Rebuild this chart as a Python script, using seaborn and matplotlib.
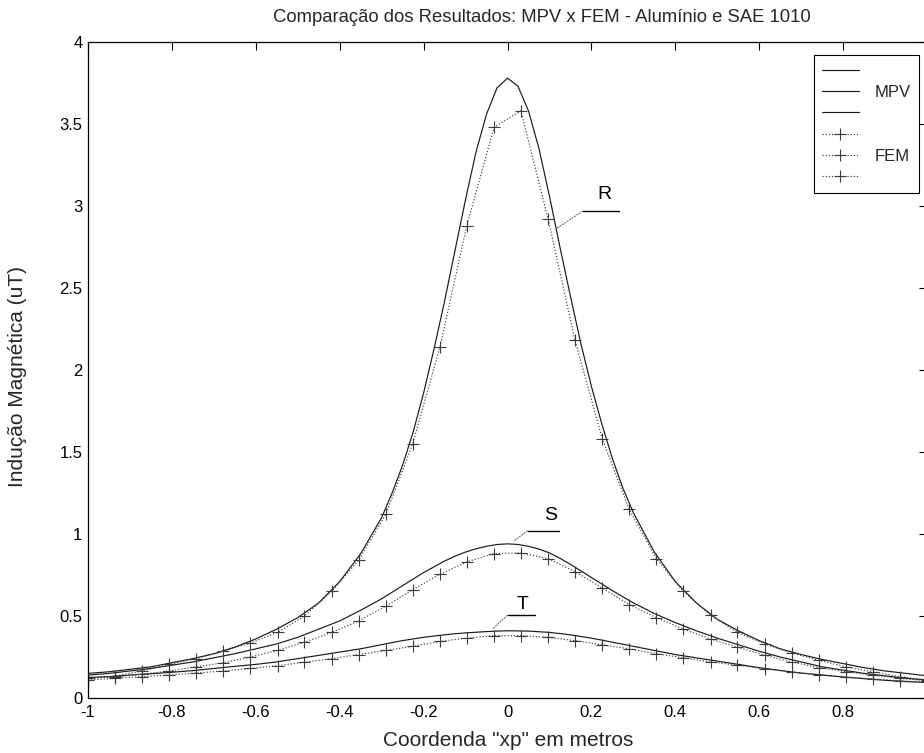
import matplotlib
matplotlib.use("Agg")
import matplotlib.pyplot as plt
import seaborn as sns

# ---------------- data ----------------
x_mpv = [-1.00, -0.95, -0.90, -0.85, -0.80, -0.75, -0.70, -0.65, -0.60, -0.55,
         -0.50, -0.45, -0.40, -0.35, -0.30, -0.275, -0.25, -0.225, -0.20, -0.175,
         -0.15, -0.125, -0.10, -0.075, -0.05, -0.025, 0.00, 0.025, 0.05, 0.075,
         0.10, 0.125, 0.15, 0.175, 0.20, 0.225, 0.25, 0.275, 0.30, 0.35,
         0.40, 0.45, 0.50, 0.55, 0.60, 0.65, 0.70, 0.75, 0.80, 0.85,
         0.90, 0.95, 1.00]

r_mpv = [0.15, 0.16, 0.175, 0.19, 0.215, 0.24, 0.27, 0.31, 0.36, 0.42,
         0.49, 0.58, 0.71, 0.88, 1.10, 1.25, 1.42, 1.62, 1.86, 2.13,
         2.42, 2.73, 3.04, 3.33, 3.56, 3.72, 3.78, 3.73, 3.58, 3.35,
         3.06, 2.75, 2.45, 2.16, 1.90, 1.67, 1.46, 1.28, 1.13, 0.89,
         0.71, 0.58, 0.48, 0.41, 0.35, 0.30, 0.265, 0.235, 0.21, 0.185,
         0.165, 0.15, 0.135]

s_mpv = [0.14, 0.15, 0.165, 0.18, 0.20, 0.22, 0.245, 0.27, 0.30, 0.33,
         0.37, 0.42, 0.47, 0.535, 0.605, 0.645, 0.685, 0.725, 0.765, 0.80,
         0.835, 0.865, 0.89, 0.91, 0.925, 0.936, 0.94, 0.936, 0.925, 0.908,
         0.885, 0.852, 0.815, 0.775, 0.735, 0.695, 0.655, 0.617, 0.58, 0.515,
         0.46, 0.41, 0.365, 0.325, 0.285, 0.25, 0.22, 0.19, 0.17, 0.15,
         0.135, 0.12, 0.11]

t_mpv = [0.125, 0.13, 0.14, 0.148, 0.157, 0.167, 0.18, 0.193, 0.205, 0.22,
         0.24, 0.26, 0.28, 0.30, 0.325, 0.338, 0.35, 0.36, 0.37, 0.378,
         0.385, 0.392, 0.397, 0.401, 0.405, 0.408, 0.41, 0.409, 0.408, 0.404,
         0.40, 0.393, 0.385, 0.375, 0.365, 0.353, 0.34, 0.328, 0.315, 0.29,
         0.265, 0.245, 0.225, 0.205, 0.185, 0.168, 0.152, 0.14, 0.128, 0.118,
         0.108, 0.10, 0.095]

x_fem = [-1.000, -0.935, -0.871, -0.806, -0.742, -0.677, -0.613, -0.548,
         -0.484, -0.419, -0.355, -0.290, -0.226, -0.161, -0.097, -0.032,
         0.032, 0.097, 0.161, 0.226, 0.290, 0.355, 0.419, 0.484,
         0.548, 0.613, 0.677, 0.742, 0.806, 0.871, 0.935, 1.000]

r_fem = [0.12, 0.134, 0.165, 0.205, 0.24, 0.286, 0.335, 0.40,
         0.50, 0.65, 0.84, 1.12, 1.55, 2.14, 2.88, 3.48,
         3.58, 2.92, 2.18, 1.58, 1.15, 0.85, 0.65, 0.506,
         0.40, 0.33, 0.275, 0.23, 0.19, 0.16, 0.13, 0.11]

s_fem = [0.12, 0.13, 0.145, 0.165, 0.19, 0.215, 0.25, 0.29,
         0.34, 0.40, 0.47, 0.56, 0.66, 0.755, 0.83, 0.88,
         0.885, 0.85, 0.77, 0.67, 0.57, 0.49, 0.42, 0.36,
         0.31, 0.26, 0.22, 0.185, 0.16, 0.14, 0.12, 0.105]

t_fem = [0.11, 0.12, 0.13, 0.14, 0.152, 0.165, 0.18, 0.197,
         0.218, 0.24, 0.265, 0.29, 0.315, 0.345, 0.365, 0.38,
         0.38, 0.37, 0.35, 0.325, 0.30, 0.27, 0.245, 0.22,
         0.20, 0.178, 0.158, 0.142, 0.128, 0.115, 0.105, 0.095]

x_ticks = [-1, -0.8, -0.6, -0.4, -0.2, 0, 0.2, 0.4, 0.6, 0.8, 1]
y_ticks = [0, 0.5, 1, 1.5, 2, 2.5, 3, 3.5, 4]
legend_labels = ["", "MPV", "", "", "FEM", ""]

title = "Comparação dos Resultados: MPV x FEM - Alumínio e SAE 1010"
xlabel = 'Coordenda "xp" em metros'
ylabel = "Indução Magnética (uT)"

# curve labels: (text, text pos, underline x-range & y, leader end)
curve_labels = [
    ("R", (0.232, 3.07), (0.180, 0.266, 2.97), (0.115, 2.86)),
    ("S", (0.103, 1.11), (0.048, 0.122, 1.02), (0.014, 0.955)),
    ("T", (0.036, 0.57), (0.000, 0.065, 0.505), (-0.036, 0.42)),
]

# ---------------- styling ----------------
sns.set_theme(style="white")
plt.rcParams["font.family"] = ["Liberation Sans", "DejaVu Sans"]
plt.rcParams["axes.unicode_minus"] = False

W, H = 924, 753
fig = plt.figure(figsize=(W / 100, H / 100), dpi=100)
ax = fig.add_axes([88 / W, 1 - 698 / H, (927 - 88) / W, (698 - 42) / H])

for yv in (r_mpv, s_mpv, t_mpv):
    sns.lineplot(x=x_mpv, y=yv, ax=ax, color="#1a1a1a", linewidth=0.85,
                 legend=False, sort=False, estimator=None)
for yv in (r_fem, s_fem, t_fem):
    sns.lineplot(x=x_fem, y=yv, ax=ax, color="#3a3a3a", linewidth=0.85,
                 linestyle=":", marker="+", markersize=8,
                 markeredgewidth=0.8, markeredgecolor="#3a3a3a",
                 legend=False, sort=False, estimator=None)

ax.set_xlim(-1, 1)
ax.set_ylim(0, 4)
ax.set_xticks(x_ticks)
ax.set_xticklabels([f"{v:g}" for v in x_ticks])
ax.set_yticks(y_ticks)
ax.set_yticklabels([f"{v:g}" for v in y_ticks])
ax.tick_params(direction="in", length=5.5, width=0.8, top=True, right=True,
               labelsize=12, colors="black")
ax.tick_params(axis="x", pad=5)
ax.tick_params(axis="y", pad=4)
for sp in ax.spines.values():
    sp.set_color("black")
    sp.set_linewidth(0.9)
ax.set_xlabel("")
ax.set_ylabel("")

# curve labels
for txt, (tx, ty), (u0, u1, uy), (lx, ly) in curve_labels:
    ax.text(tx, ty, txt, ha="center", va="center", fontsize=14, color="black")
    ax.plot([u0, u1], [uy, uy], color="black", linewidth=1.0)
    ax.plot([u0, lx], [uy, ly], color="#555555", linewidth=0.7, linestyle=(0, (2, 1)))

# legend
handles = ax.lines[:6]
leg = ax.legend(handles, legend_labels, loc="upper right",
                bbox_to_anchor=(919 / W, 1 - 55 / H), bbox_transform=fig.transFigure,
                borderaxespad=0, fontsize=12, frameon=True, fancybox=False,
                edgecolor="black", framealpha=1, borderpad=0.5,
                handlelength=2.2, handletextpad=0.95, labelspacing=0.38,
                numpoints=1)
leg.get_frame().set_linewidth(0.8)

fig.text(542 / W, 1 - 18 / H, title, ha="center", va="center", fontsize=13.3)
fig.text(508 / W, 1 - 740 / H, xlabel, ha="center", va="center", fontsize=15)
fig.text(18 / W, 1 - 487 / H, ylabel, ha="center", va="bottom", rotation=90, fontsize=15)

fig.savefig("out.png", dpi=100)
